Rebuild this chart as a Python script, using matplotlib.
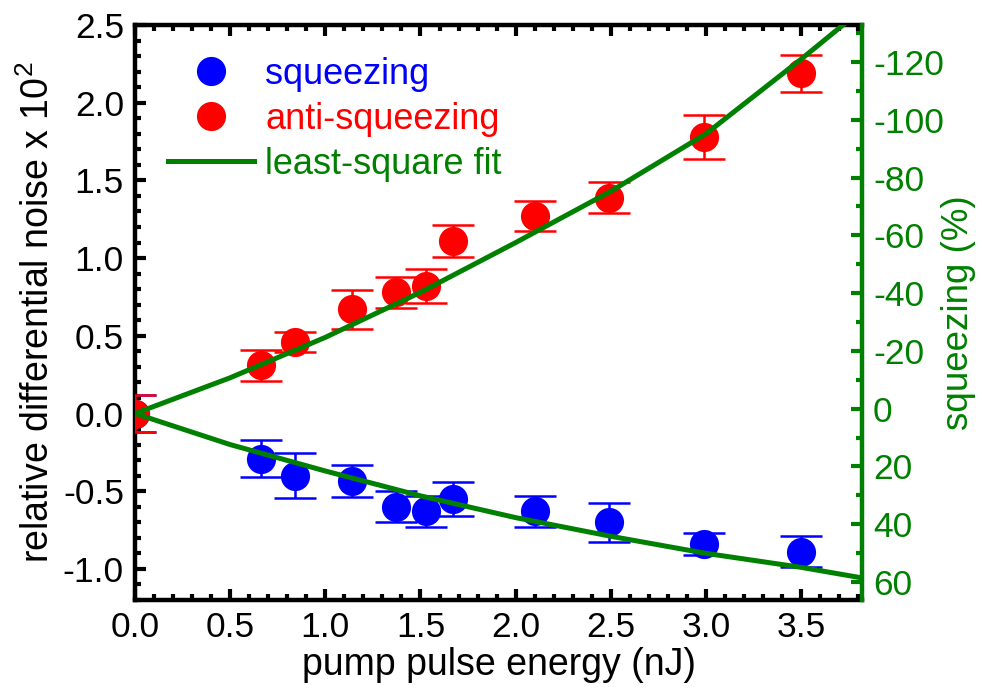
import matplotlib
matplotlib.use("Agg")
import matplotlib.pyplot as plt
from matplotlib.ticker import MultipleLocator

plt.rcParams['font.family'] = ['Liberation Sans', 'DejaVu Sans']
plt.rcParams['mathtext.fontset'] = 'custom'
plt.rcParams['mathtext.rm'] = 'Liberation Sans'
plt.rcParams['axes.unicode_minus'] = False

GREEN = '#008000'

# pump pulse energy (nJ)
ENERGY = [0.0, 0.66, 0.84, 1.14, 1.37, 1.53, 1.67, 2.10, 2.49, 2.99, 3.50]

# relative differential noise x 10^2
ANTI = [0.0, 0.31, 0.46, 0.67, 0.78, 0.82, 1.11, 1.27, 1.39, 1.78, 2.19]
ANTI_ERR = [0.12, 0.10, 0.065, 0.125, 0.10, 0.11, 0.10, 0.095, 0.10, 0.14, 0.12]
SQZ = [0.0, -0.29, -0.40, -0.435, -0.60, -0.63, -0.55, -0.63, -0.70, -0.84, -0.89]
SQZ_ERR = [0.12, 0.12, 0.145, 0.105, 0.10, 0.10, 0.11, 0.10, 0.125, 0.07, 0.10]

# least-square fit curves
FIT_X = [0.0, 0.5, 1.0, 1.5, 2.0, 2.5, 3.0, 3.5, 3.9]
FIT_UP = [0.0, 0.23, 0.49, 0.78, 1.10, 1.43, 1.80, 2.28, 2.68]
FIT_DOWN = [0.0, -0.20, -0.37, -0.53, -0.67, -0.79, -0.90, -0.99, -1.075]

fig = plt.figure(figsize=(9.82, 6.97), dpi=100)
ax = fig.add_axes([0.1375, 0.1392, 0.7403, 0.8249])
ax2 = ax.twinx()

# error bars first, markers on top, fit line above everything
ax.errorbar(ENERGY, SQZ, yerr=SQZ_ERR, fmt='none', ecolor='blue',
            elinewidth=1.8, capsize=15, capthick=1.8, zorder=2)
ax.plot(ENERGY, SQZ, 'o', color='blue', ms=21, mec='none', zorder=3, label='squeezing')
ax.errorbar(ENERGY, ANTI, yerr=ANTI_ERR, fmt='none', ecolor='red',
            elinewidth=1.8, capsize=15, capthick=1.8, zorder=4)
ax.plot(ENERGY, ANTI, 'o', color='red', ms=21, mec='none', zorder=5, label='anti-squeezing')
ax.plot(FIT_X, FIT_UP, '-', color=GREEN, lw=3.6, zorder=6, label='least-square fit')
ax.plot(FIT_X, FIT_DOWN, '-', color=GREEN, lw=3.6, zorder=6)

ax.set_xlim(0, 3.82)
ax.set_ylim(-1.2, 2.5)
ax.xaxis.set_major_locator(MultipleLocator(0.5))
ax.xaxis.set_minor_locator(MultipleLocator(0.1))
ax.yaxis.set_major_locator(MultipleLocator(0.5))
ax.yaxis.set_minor_locator(MultipleLocator(0.1))
ax.xaxis.set_major_formatter(plt.FuncFormatter(lambda v, p: '%.1f' % v))
ax.yaxis.set_major_formatter(plt.FuncFormatter(lambda v, p: '%.1f' % v))

ax.tick_params(which='both', direction='in', top=True, right=False,
               width=3, labelsize=25.5, pad=8, color='black')
ax.tick_params(which='major', length=8)
ax.tick_params(which='minor', length=4.5)
for side in ['left', 'bottom', 'top']:
    ax.spines[side].set_linewidth(3.2)
ax.spines['right'].set_visible(False)

ax.set_xlabel('pump pulse energy (nJ)', fontsize=27, labelpad=2)
ax.set_ylabel(r'relative differential noise x 10$^2$', fontsize=27, labelpad=4)

# right axis: squeezing in percent (inverted)
ax2.set_ylim(66.2, -132.8)
ax2.yaxis.set_major_locator(MultipleLocator(20))
ax2.yaxis.set_minor_locator(MultipleLocator(10))
ax2.tick_params(which='both', direction='in', width=3, labelsize=25.5, pad=8,
                color=GREEN, labelcolor=GREEN)
ax2.tick_params(which='major', length=8)
ax2.tick_params(which='minor', length=4.5)
for side in ['left', 'bottom', 'top']:
    ax2.spines[side].set_visible(False)
ax2.spines['right'].set_color(GREEN)
ax2.spines['right'].set_linewidth(3.2)
ax2.set_ylabel('squeezing (%)', fontsize=26.5, color=GREEN, labelpad=-2)

leg = ax.legend(loc='upper left', bbox_to_anchor=(0.045, 0.945), frameon=False,
                fontsize=26, borderaxespad=0, borderpad=0, labelspacing=0.28,
                handlelength=2.4, handletextpad=0.3,
                labelcolor=['blue', 'red', GREEN])

fig.savefig('out.png', dpi=100)
